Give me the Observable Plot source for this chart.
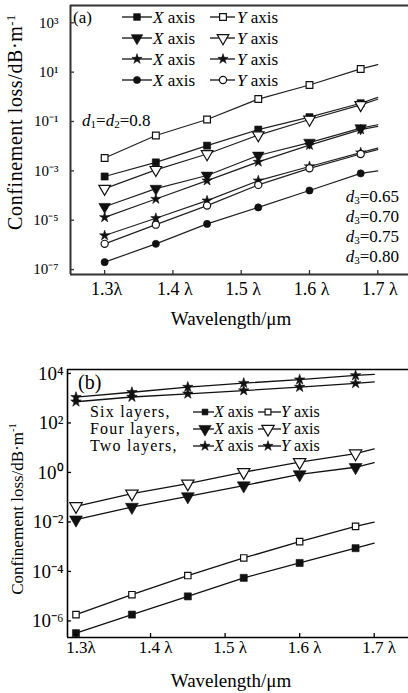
<!DOCTYPE html>
<html><head><meta charset="utf-8">
<script src="https://cdn.jsdelivr.net/npm/d3@7"></script>
<script src="https://cdn.jsdelivr.net/npm/@observablehq/plot@0.6"></script>
<style>
body{margin:0;background:#fff;}
#wrap{position:relative;width:408px;height:693px;overflow:hidden;font-family:"Liberation Serif","Times New Roman",serif;color:#000;background:#fff;}
.panel{position:absolute;left:0;}
.ov{position:absolute;white-space:nowrap;line-height:1;}
.ov sub{font-size:65%;vertical-align:-0.25em;line-height:0;}
.ov sup{font-size:62%;vertical-align:0.6em;line-height:0;}
#legend{position:absolute;left:0;top:0;}
</style></head><body>
<div id="wrap">
  <div id="pa" class="panel" style="top:0"></div>
  <div id="pb" class="panel" style="top:335px"></div>
</div>
<script>
// ---------- data ----------
const wavelengths = [1.3, 1.375, 1.45, 1.525, 1.6, 1.675];
const lineEndWavelength = 1.7; // fitted lines run on to 1.7λ (no marker)
const xTicks = [1.3, 1.4, 1.5, 1.6, 1.7];
const xTickLabels = ["1.3λ", "1.4 λ", "1.5 λ", "1.6 λ", "1.7 λ"];
const aYTicks = [1e3, 1e1, 1e-1, 1e-3, 1e-5, 1e-7];
const bYTicks = [1e4, 1e2, 1e0, 1e-2, 1e-4, 1e-6];

// panel (a): d1=d2=0.8, d3 = 0.65 / 0.70 / 0.75 / 0.80 ; last value = line end at 1.7
const a065X = [5.9e-4, 2.2e-3, 1.05e-2, 4.7e-2, 0.15, 0.55, 0.95];
const a065Y = [3.3e-3, 2.7e-2, 0.12, 0.81, 3.0, 13.5, 20];
const a070X = [3.5e-5, 1.9e-4, 6.5e-4, 4.2e-3, 1.4e-2, 5.4e-2, 7.4e-2];
const a070Y = [1.9e-4, 1.1e-3, 4.8e-3, 2.8e-2, 0.12, 0.47, 0.8];
const a075X = [2.4e-6, 1.2e-5, 6.2e-5, 4.0e-4, 1.5e-3, 5.5e-3, 8.3e-3];
const a075Y = [1.3e-5, 7.2e-5, 4.0e-4, 2.3e-3, 1.1e-2, 4.7e-2, 6.3e-2];
const a080X = [2.0e-7, 1.1e-6, 7.1e-6, 3.3e-5, 1.6e-4, 7.9e-4, 1.0e-3];
const a080Y = [1.1e-6, 6.6e-6, 3.9e-5, 2.7e-4, 1.26e-3, 4.8e-3, 7.2e-3];

// panel (b): six / four / two layers
const bSixX = [3.2e-7, 1.8e-6, 9.8e-6, 5.5e-5, 2.2e-4, 8.7e-4, 1.4e-3];
const bSixY = [1.8e-6, 1.15e-5, 6.8e-5, 3.5e-4, 1.6e-3, 6.6e-3, 9.8e-3];
const bFourX = [0.0123, 0.040, 0.107, 0.295, 0.83, 1.62, 2.5];
const bFourY = [0.043, 0.138, 0.35, 1.02, 2.6, 5.8, 8.9];
const bTwoX = [720, 1120, 1510, 2040, 2820, 3980, 4570];
const bTwoY = [1100, 1740, 2820, 4070, 5620, 8300, 9100];

// ---------- helpers ----------
const S3 = Math.sqrt(3);
const triangleDown = {draw(c, size){const y = Math.sqrt(size/(S3*3)); c.moveTo(0, 2*y); c.lineTo(-S3*y, -y); c.lineTo(S3*y, -y); c.closePath();}};
const xsAll = [...wavelengths, lineEndWavelength];
const rows = vals => vals.map((v, i) => ({x: xsAll[i], y: v, marker: i < wavelengths.length}));
const sup = {"-":"⁻","0":"⁰","1":"¹","2":"²","3":"³","4":"⁴","5":"⁵","6":"⁶","7":"⁷","8":"⁸","9":"⁹"};
const pow10 = d => "10" + String(Math.round(Math.log10(d))).split("").map(c => sup[c]).join("");
const xLabelMap = new Map(xTicks.map((t, i) => [t, xTickLabels[i]]));

function panel(cfg){
  const ink = "#111";
  const marks = [
    Plot.ruleY([cfg.yDomain[0]], {stroke: cfg.axisColor, strokeWidth: cfg.axisW}),
    Plot.ruleY([cfg.yDomain[1]], {stroke: cfg.axisColor, strokeWidth: cfg.axisW}),
    Plot.ruleX([cfg.xDomain[0]], {stroke: cfg.axisColor, strokeWidth: cfg.axisW})
  ];
  for (const s of cfg.series) marks.push(Plot.line(rows(s.values), {x: "x", y: "y", stroke: cfg.lineColor, strokeWidth: cfg.lineW}));
  for (const s of cfg.series) marks.push(Plot.dot(rows(s.values).filter(r => r.marker), {
    x: "x", y: "y", symbol: s.symbol, r: s.r, fill: s.filled ? ink : "white", stroke: ink, strokeWidth: s.filled ? 0.6 : 1.2
  }));
  marks.push(
    Plot.axisY({ticks: cfg.yTicks, tickSize: 0, tickPadding: cfg.yPad, tickFormat: pow10, fontSize: cfg.yFont, label: null}),
    Plot.axisY({ticks: cfg.yTicks, tickSize: 4, dx: 4, tickFormat: () => "", label: null, stroke: cfg.axisColor, strokeWidth: 1.3}),
    Plot.axisX({ticks: xTicks, tickSize: 0, tickPadding: cfg.xPad, tickFormat: d => xLabelMap.get(d), fontSize: cfg.xFont, dx: cfg.xdx, label: null}),
    Plot.axisX({ticks: xTicks, tickSize: 4, dy: -4, tickFormat: () => "", label: null, stroke: cfg.axisColor, strokeWidth: 1.3})
  );
  return Plot.plot({
    width: 408, height: cfg.height,
    marginLeft: cfg.ml, marginRight: 0, marginTop: cfg.mt, marginBottom: cfg.mb,
    style: {fontFamily: '"Liberation Serif","Times New Roman",serif', background: "transparent", color: "#000", overflow: "visible"},
    x: {domain: cfg.xDomain},
    y: {type: "log", domain: cfg.yDomain},
    marks
  });
}

const symSquare = "square", symStar = "star", symCircle = "circle";

document.getElementById("pa").append(panel({
  height: 335, ml: 70, mt: 5, mb: 61,
  xDomain: [1.25, 1.745], yDomain: [Math.pow(10, -7.2), Math.pow(10, 3.7)],
  yTicks: aYTicks, yPad: 12, yFont: 15, xPad: 8, xFont: 18, xdx: 2,
  axisW: 2, axisColor: "#333", lineW: 1.2, lineColor: "#222",
  series: [
    {values: a065X, symbol: symSquare, r: 4, filled: true},
    {values: a065Y, symbol: symSquare, r: 3.8, filled: false},
    {values: a070X, symbol: triangleDown, r: 4.3, filled: true},
    {values: a070Y, symbol: triangleDown, r: 4.3, filled: false},
    {values: a075X, symbol: symStar, r: 3.2, filled: true},
    {values: a075Y, symbol: symStar, r: 3.2, filled: true},
    {values: a080X, symbol: symCircle, r: 3.6, filled: true},
    {values: a080Y, symbol: symCircle, r: 3.6, filled: false}
  ]
}));

document.getElementById("pb").append(panel({
  height: 358, ml: 67, mt: 34, mb: 56,
  xDomain: [1.2886, 1.746], yDomain: [Math.pow(10, -6.67), Math.pow(10, 4.16)],
  yTicks: bYTicks, yPad: 4, yFont: 19, xPad: 3, xFont: 17, xdx: 5,
  axisW: 1.6, axisColor: "#000", lineW: 1.3, lineColor: "#111",
  series: [
    {values: bSixX, symbol: symSquare, r: 4, filled: true},
    {values: bSixY, symbol: symSquare, r: 3.6, filled: false},
    {values: bFourX, symbol: triangleDown, r: 4.8, filled: true},
    {values: bFourY, symbol: triangleDown, r: 4.6, filled: false},
    {values: bTwoX, symbol: symStar, r: 3.3, filled: true},
    {values: bTwoY, symbol: symStar, r: 3.3, filled: true}
  ]
}));

// ---------- text overlays ----------
const wrap = document.getElementById("wrap");
function txt(html, x, y, opts = {}){
  const d = document.createElement("div");
  d.className = "ov";
  d.innerHTML = html;
  d.style.left = x + "px"; d.style.top = y + "px";
  d.style.fontSize = (opts.size || 16) + "px";
  if (opts.ls) d.style.letterSpacing = opts.ls + "px";
  const ax = opts.anchor === "middle" ? "-50%" : opts.anchor === "end" ? "-100%" : "0";
  d.style.transform = opts.rotate ? `translate(-50%,-50%) rotate(${opts.rotate}deg)` : `translate(${ax},-50%)`;
  wrap.append(d);
}
const yTitle = "Confinement loss/dB·m<sup>-1</sup>";
const xTitle = "Wavelength/μm";
// panel a
txt(yTitle, 15, 122, {size: 20, rotate: -90, ls: 0.6});
txt(xTitle, 231, 318, {size: 19, anchor: "middle"});
txt("(a)", 73, 17, {size: 17});
txt("<i>d</i><sub>1</sub>=<i>d</i><sub>2</sub>=0.8", 82, 120, {size: 17});
const d3Values = ["0.65", "0.70", "0.75", "0.80"];
d3Values.forEach((v, i) => txt(`<i>d</i><sub>3</sub>=${v}`, 399, 196 + i * 20, {size: 17, anchor: "end"}));
const aLegendRows = [17, 38, 59, 80];
aLegendRows.forEach(y => {
  txt("<i>X</i> axis", 153, y, {size: 17});
  txt("<i>Y</i> axis", 237, y, {size: 17});
});
// panel b
txt(yTitle, 17, 509, {size: 17, rotate: -90});
txt(xTitle, 231, 680, {size: 19, anchor: "middle"});
txt("(b)", 78, 382, {size: 20});
const bLegendNames = ["Six layers,", "Four layers,", "Two layers,"];
const bLegendRows = [412, 429, 446];
bLegendNames.forEach((n, i) => {
  txt(n, 90, bLegendRows[i], {size: 16, ls: 1.2});
  txt("<i>X</i> axis", 214, bLegendRows[i], {size: 16});
  txt("<i>Y</i> axis", 281, bLegendRows[i], {size: 16});
});

// ---------- legend symbols ----------
const svg = d3.select(wrap).append("svg").attr("id", "legend").attr("width", 408).attr("height", 693);
function legendItem(x1, x2, xm, y, type, r, filled, sw){
  svg.append("line").attr("x1", x1).attr("x2", x2).attr("y1", y).attr("y2", y).attr("stroke", "#111").attr("stroke-width", sw);
  svg.append("path").attr("transform", `translate(${xm},${y})`)
    .attr("d", d3.symbol().type(type).size(Math.PI * r * r)())
    .attr("fill", filled ? "#111" : "white").attr("stroke", "#111").attr("stroke-width", filled ? 0.6 : 1.2);
}
const aLegendSyms = [[d3.symbolSquare, 3.8, false], [triangleDown, 4.3, false], [d3.symbolStar, 3.2, true], [d3.symbolCircle, 3.6, false]];
aLegendSyms.forEach(([t, r, yFilled], i) => {
  legendItem(122, 152, 137, aLegendRows[i], t, r, true, 1.3);
  legendItem(210, 235, 223, aLegendRows[i], t, r, yFilled, 1.3);
});
const bLegendSyms = [[d3.symbolSquare, 3.3, false], [triangleDown, 4.6, false], [d3.symbolStar, 3.2, true]];
bLegendSyms.forEach(([t, r, yFilled], i) => {
  legendItem(193, 214, 205, bLegendRows[i], t, r, true, 1.3);
  legendItem(258, 281, 268, bLegendRows[i], t, r, yFilled, 1.3);
});
</script>
</body></html>
